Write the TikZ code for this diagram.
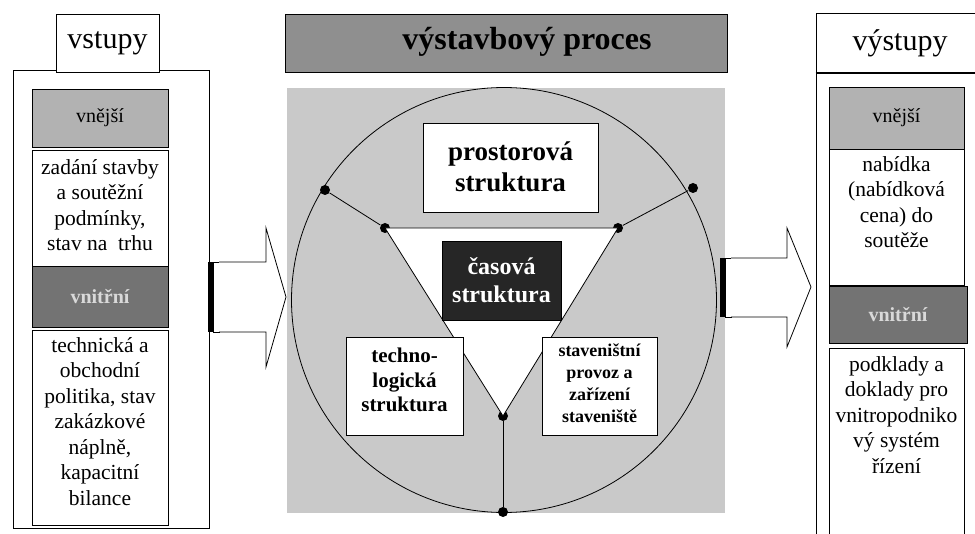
\documentclass[tikz,border=0pt]{standalone}
\usepackage{fontspec}
\setmainfont{Liberation Serif}
\usetikzlibrary{shapes}

\begin{document}
\begin{tikzpicture}[x = 1pt, y = -1pt, line width = 0.8pt]
	\tikzstyle{boxStyle}=[shape = rectangle, draw, fill = white, inner sep = 0pt]
	\tikzstyle{headStyle}=[boxStyle, font = \fontsize{30}{34}\selectfont]
	\tikzstyle{outerStyle}=[boxStyle]
	\tikzstyle{lightStyle}=[boxStyle, fill = gray!60, font = \fontsize{20}{22}\selectfont]
	\tikzstyle{darkStyle}=[boxStyle, fill = black!55, text = white!85!black, font = \fontsize{20}{22}\selectfont\bfseries]
	\tikzstyle{textStyle}=[inner sep = 0pt, align = center, font = \fontsize{21.5}{25.5}\selectfont]
	\tikzstyle{boldStyle}=[inner sep = 0pt, align = center, font = \bfseries]
	\tikzstyle{dotStyle}=[shape = circle, fill, inner sep = 0pt, minimum size = 10pt]
	\useasboundingbox (0,0) rectangle (975,534);
	\clip (0,0) rectangle (975,534);
	% vstupy
	\node[outerStyle, minimum width = 196pt, minimum height = 458pt] (inOuter) at (111,299) {};
	\node[headStyle, minimum width = 103pt, minimum height = 58pt] (inHead) at (107.5,43) {vstupy};
	\node[lightStyle, minimum width = 136pt, minimum height = 58pt] (inExt) at (100,118) {vnější};
	\node[boxStyle, minimum width = 136pt, minimum height = 116pt] (inExtBox) at (100,208) {};
	\node[darkStyle, minimum width = 136pt, minimum height = 61pt] (inInt) at (100,296.5) {vnitřní};
	\node[boxStyle, minimum width = 136pt, minimum height = 195pt] (inIntBox) at (100,427.5) {};
	\node[textStyle, anchor = north] (inExtText) at (100,159) {zadání stavby\\a soutěžní\\podmínky,\\stav na\ \ trhu};
	\node[textStyle, anchor = north] (inIntText) at (100,337) {technická a\\obchodní\\politika, stav\\zakázkové\\náplně,\\kapacitní\\bilance};
	% left arrow
	\fill (208,262) rectangle (213,332);
	\draw (213,262) rectangle (219,332);
	\draw[fill = white, line join = miter] (219,262) -- (266,262) -- (266,228) -- (286,297) -- (266,367) -- (266,332) -- (219,332);
	% vystavbovy proces
	\node[boxStyle, fill = gray!88, minimum width = 442pt, minimum height = 58pt] (proces) at (506,43) {};
	\node[boldStyle, font = \fontsize{32}{36}\selectfont\bfseries] (procesText) at (527,42) {výstavbový proces};
	\fill[gray!42] (287,88) rectangle (725,513);
	\node[shape = circle, draw, minimum size = 425pt, inner sep = 0pt] (kruh) at (504,300) {};
	\node[dotStyle] (p0) at (325,190) {};
	\node[dotStyle] (p1) at (693,188) {};
	\node[dotStyle] (p2) at (385,228) {};
	\node[dotStyle] (p3) at (618,228) {};
	\node[dotStyle] (p4) at (503,416) {};
	\node[dotStyle] (p5) at (503,512) {};
	\fill[white] (p2.center) -- (p3.center) -- (p4.center) -- cycle;
	\draw (p2.center) -- (p3.center) -- (p4.center) -- cycle;
	\draw (p0) -- (p2);
	\draw (p1) -- (p3);
	\draw (p4) -- (p5);
	\node[boxStyle, minimum width = 175pt, minimum height = 89pt] (prostor) at (510.5,167.5) {};
	\node[boldStyle, font = \fontsize{27}{31}\selectfont\bfseries] (prostorText) at (510.5,167) {prostorová\\struktura};
	\node[boxStyle, fill = black!85, minimum width = 119pt, minimum height = 79pt] (cas) at (501.5,280.5) {};
	\node[boldStyle, text = white, font = \fontsize{24}{28}\selectfont\bfseries] (casText) at (501.5,280) {časová\\struktura};
	\node[boxStyle, minimum width = 117pt, minimum height = 98pt] (techno) at (404.5,386) {};
	\node[boldStyle, font = \fontsize{21}{24.5}\selectfont\bfseries] (technoText) at (404.5,380) {techno-\\logická\\struktura};
	\node[boxStyle, minimum width = 115pt, minimum height = 98pt] (stav) at (599.5,386) {};
	\node[boldStyle, font = \fontsize{18}{22}\selectfont\bfseries] (stavText) at (599.5,383) {staveništní\\provoz a\\zařízení\\staveniště};
	% right arrow
	\fill (720,258) rectangle (725,317);
	\draw (725,258) rectangle (731,317);
	\draw[fill = white, line join = miter] (731,258) -- (787,258) -- (787,228) -- (811,287) -- (787,347) -- (787,317) -- (731,317);
	% vystupy
	\node[outerStyle, minimum width = 174pt, minimum height = 480pt] (outOuter) at (903,312) {};
	\node[headStyle, minimum width = 168pt, minimum height = 59pt] (outHead) at (900,43) {výstupy};
	\draw[line width = 2pt] (outHead.south west) -- (outHead.south east);
	\node[lightStyle, minimum width = 135pt, minimum height = 62pt] (outExt) at (896.5,118) {vnější};
	\node[boxStyle, minimum width = 135pt, minimum height = 136pt] (outExtBox) at (896.5,217) {};
	\node[darkStyle, minimum width = 138pt, minimum height = 57pt] (outInt) at (898,314.5) {vnitřní};
	\node[boxStyle, minimum width = 135pt, minimum height = 200pt] (outIntBox) at (896.5,448) {};
	\node[textStyle, anchor = north] (outExtText) at (896.5,156) {nabídka\\(nabídková\\cena) do\\soutěže};
	\node[textStyle, anchor = north] (outIntText) at (896.5,356) {podklady a\\doklady pro\\vnitropodniko\\vý systém\\řízení};
\end{tikzpicture}
\end{document}
